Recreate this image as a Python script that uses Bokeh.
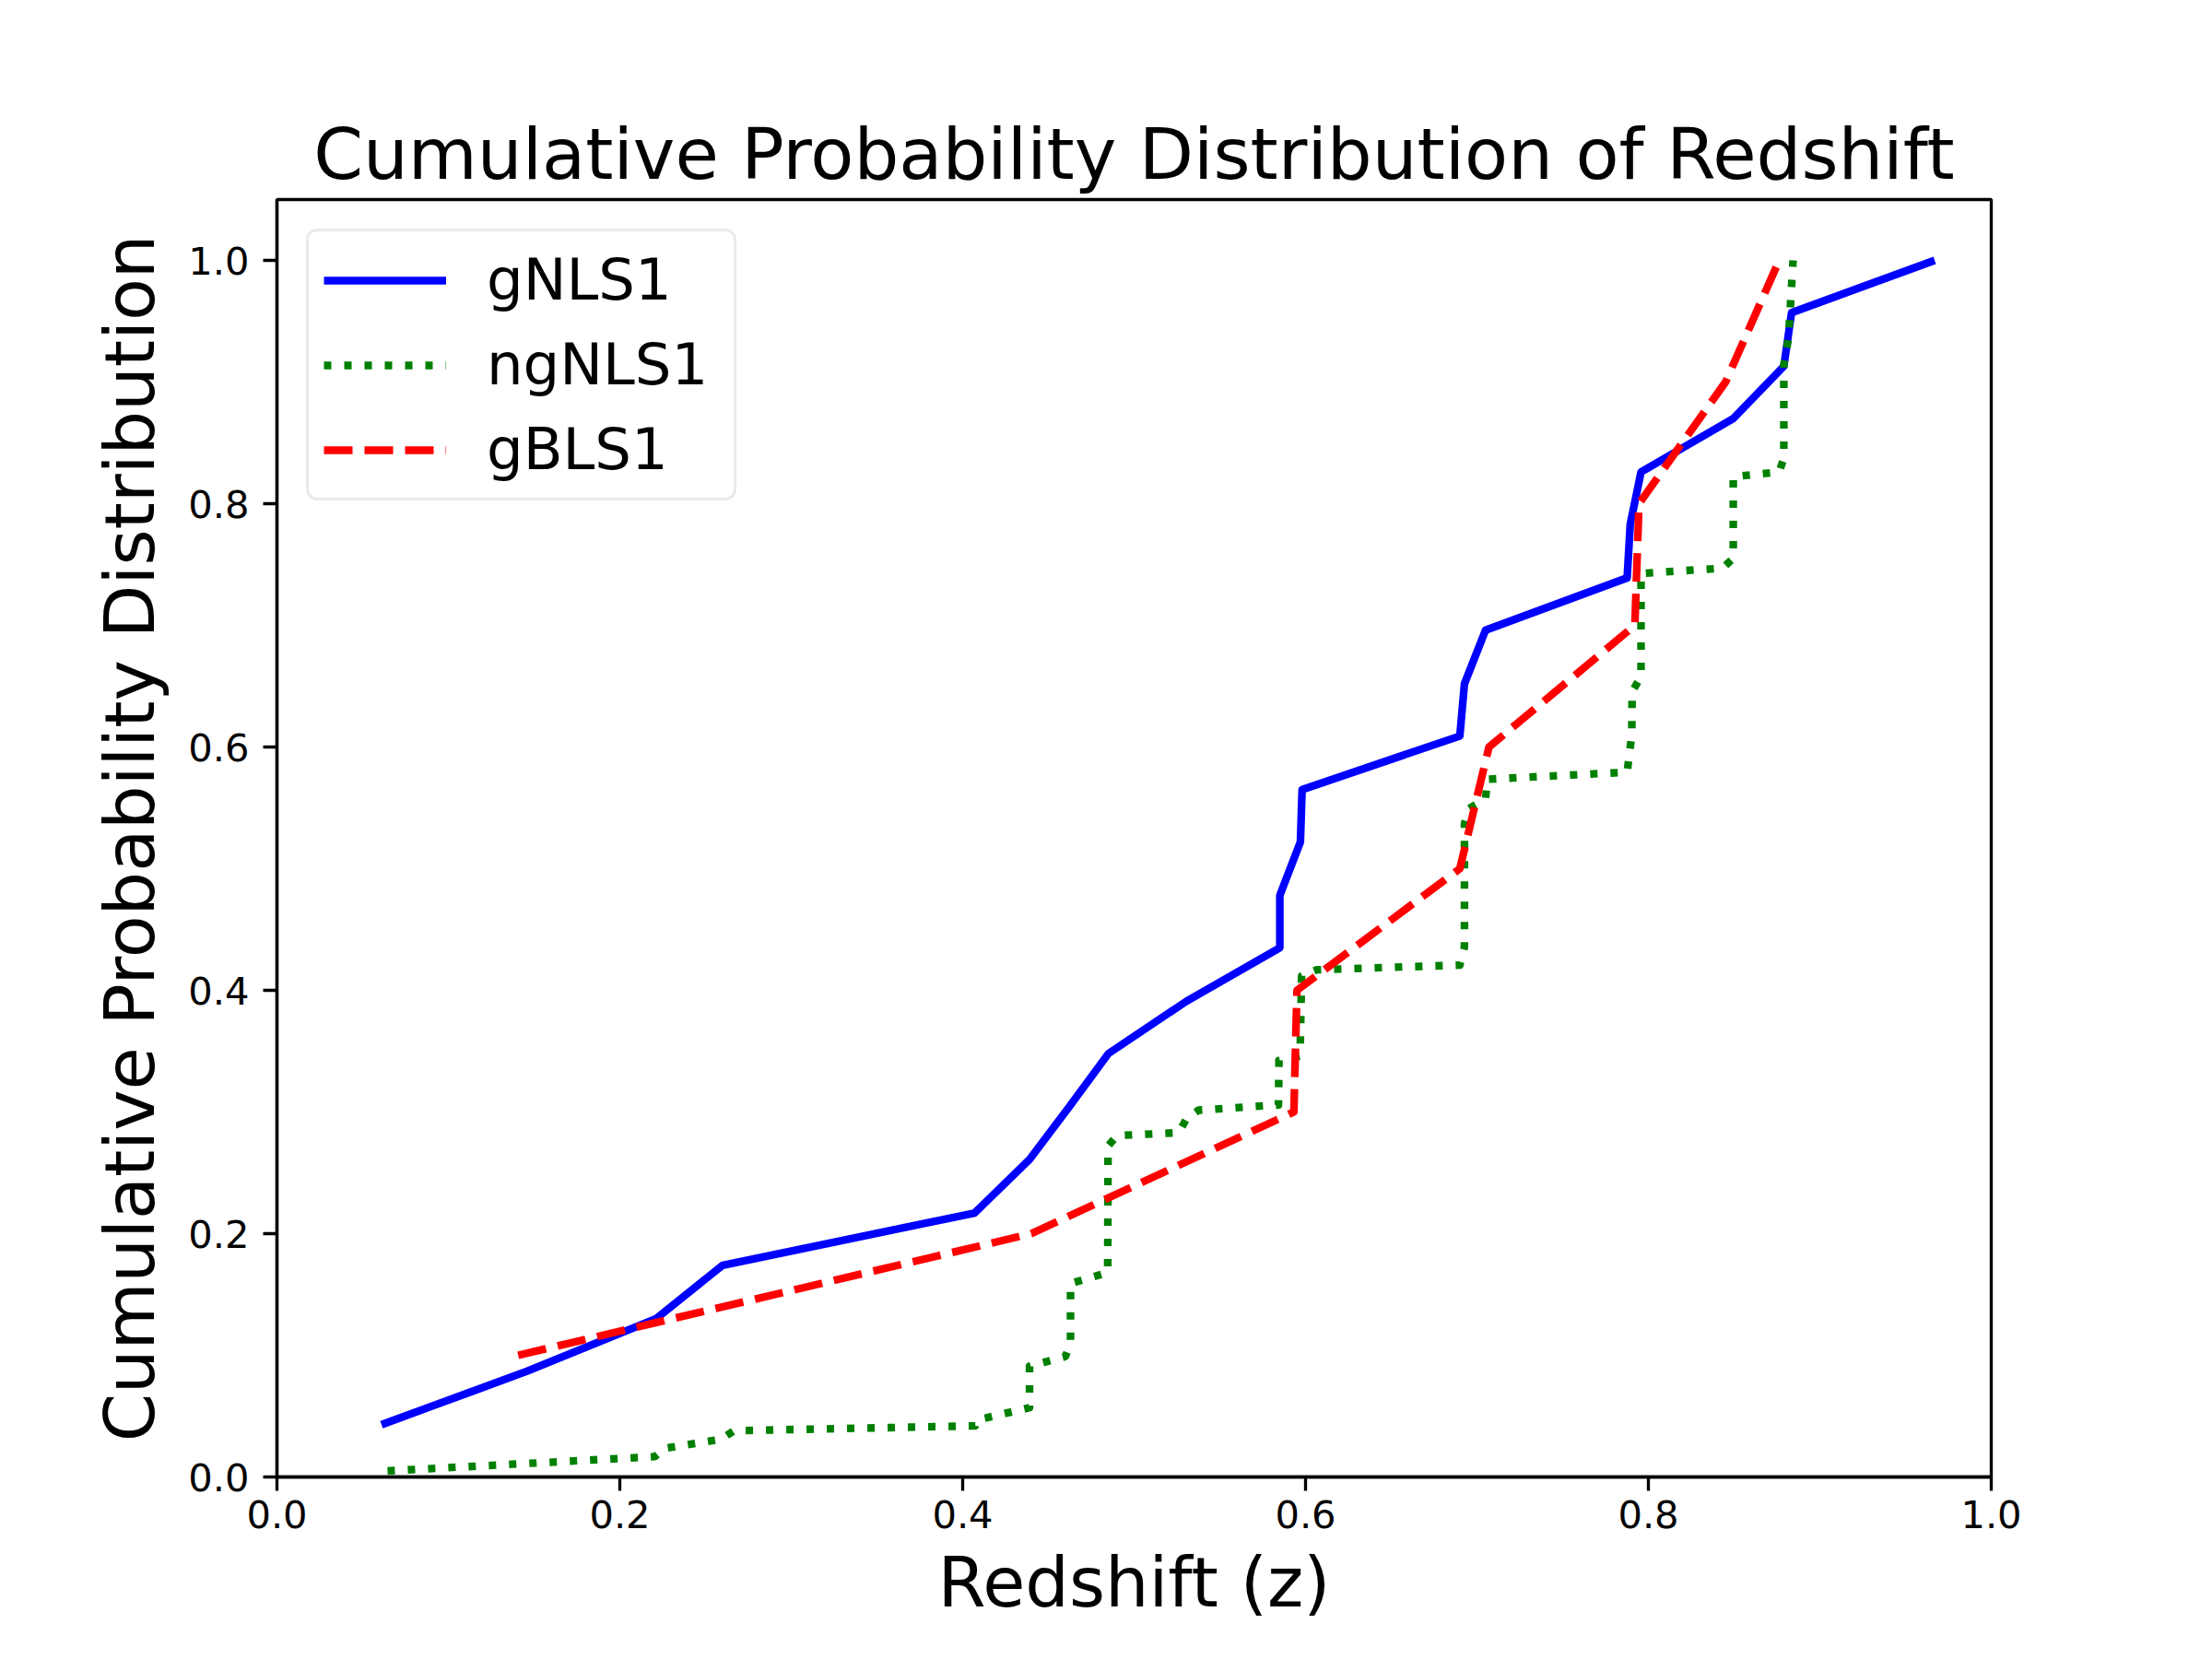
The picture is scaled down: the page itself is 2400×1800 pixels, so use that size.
from bokeh.plotting import figure
from bokeh.models import Range1d, FixedTicker, PrintfTickFormatter, Legend, LegendItem
from bokeh.embed import file_html
from bokeh.resources import INLINE

# ---------------- data ----------------
gnls1_z = [0.061, 0.146, 0.221, 0.260, 0.407, 0.439, 0.462, 0.485, 0.5305, 0.585,
           0.585, 0.597, 0.598, 0.690, 0.6927, 0.705, 0.7876, 0.7894, 0.7957, 0.8495,
           0.879, 0.8835, 0.967]
gnls1_cdf = [0.043, 0.087, 0.130, 0.174, 0.217, 0.261, 0.304, 0.348, 0.391, 0.435,
             0.478, 0.522, 0.565, 0.609, 0.652, 0.696, 0.739, 0.783, 0.826, 0.870,
             0.913, 0.957, 1.000]

ngnls1_z = [0.0645, 0.2204, 0.2258, 0.259, 0.2665, 0.4074, 0.409, 0.439, 0.439, 0.4599,
            0.4629, 0.4629, 0.4846, 0.4848, 0.490, 0.526, 0.5305, 0.5376, 0.5842, 0.5845,
            0.5968, 0.5977, 0.6066, 0.690, 0.6927, 0.6927, 0.6954, 0.705, 0.706, 0.7876,
            0.7903, 0.7905, 0.7957, 0.7957, 0.8432, 0.8495, 0.8495, 0.8763, 0.879, 0.879,
            0.8817, 0.8844]
ngnls1_cdf = [0.005, 0.0167, 0.0235, 0.031, 0.038, 0.042, 0.047, 0.057, 0.091, 0.099,
              0.110, 0.159, 0.168, 0.272, 0.2806, 0.283, 0.2944, 0.3015, 0.3058, 0.3424,
              0.346, 0.4119, 0.4169, 0.4207, 0.4358, 0.537, 0.5495, 0.557, 0.5735, 0.5793,
              0.610, 0.6455, 0.658, 0.7427, 0.747, 0.755, 0.8222, 0.826, 0.8374, 0.9144,
              0.9358, 1.000]

gbls1_z = [0.1407, 0.440, 0.5932, 0.595, 0.690, 0.707, 0.7921, 0.7945, 0.845, 0.8763]
gbls1_cdf = [0.1, 0.2, 0.3, 0.4, 0.5, 0.6, 0.7, 0.8, 0.9, 1.0]

tick_values = [0.0, 0.2, 0.4, 0.6, 0.8, 1.0]

FONT = "DejaVu Sans"

p = figure(width=2384, height=1784, output_backend="svg", toolbar_location=None,
           x_range=Range1d(0, 1), y_range=Range1d(0, 1.05),
           min_border_left=300, min_border_right=224,
           min_border_top=216, min_border_bottom=182)

p.background_fill_color = "white"
p.border_fill_color = "white"
p.grid.visible = False
p.outline_line_color = "black"
p.outline_line_width = 3.33
p.outline_line_alpha = 1.0

p.title.text = "Cumulative Probability Distribution of Redshift"
p.title.text_font = FONT
p.title.text_font_size = "77px"
p.title.text_font_style = "normal"
p.title.text_color = "black"
p.title.align = "center"
p.title.standoff = 10

p.xaxis.axis_label = "Redshift (z)"
p.yaxis.axis_label = "Cumulative Probability Distribution"
for ax in (p.xaxis, p.yaxis):
    ax.ticker = FixedTicker(ticks=tick_values)
    ax.formatter = PrintfTickFormatter(format="%.1f")
    ax.axis_label_text_font = FONT
    ax.axis_label_text_font_size = "75px"
    ax.axis_label_text_font_style = "normal"
    ax.axis_label_text_color = "black"
    ax.major_label_text_font = FONT
    ax.major_label_text_font_size = "41.67px"
    ax.major_label_text_color = "black"
    ax.axis_line_color = "black"
    ax.axis_line_width = 3.33
    ax.major_tick_line_color = "black"
    ax.major_tick_line_width = 3.33
    ax.major_tick_out = 15
    ax.major_tick_in = 0
    ax.minor_tick_line_color = None

p.xaxis.major_label_standoff = 10
p.yaxis.major_label_standoff = 15
p.xaxis.axis_label_standoff = 12
p.yaxis.axis_label_standoff = 16

r1 = p.line(gnls1_z, gnls1_cdf, line_color="#0000ff", line_width=8.33, line_join="round")
r2 = p.line(ngnls1_z, ngnls1_cdf, line_color="#008000", line_width=8.33,
            line_dash="8 14", line_join="round")
r3 = p.line(gbls1_z, gbls1_cdf, line_color="#ff0000", line_width=8.33,
            line_dash="31 13", line_join="round")

legend = Legend(items=[LegendItem(label="gNLS1", renderers=[r1]),
                       LegendItem(label="ngNLS1", renderers=[r2]),
                       LegendItem(label="gBLS1", renderers=[r3])],
                location="top_left")
legend.margin = 32
legend.padding = 16
legend.spacing = 19
legend.glyph_width = 133
legend.glyph_height = 60
legend.label_height = 60
legend.label_width = 252
legend.label_standoff = 44
legend.label_text_font = FONT
legend.label_text_font_size = "62.5px"
legend.label_text_color = "black"
legend.border_line_color = "#d6d6d6"
legend.border_line_width = 3.33
legend.background_fill_color = "white"
legend.background_fill_alpha = 0.8
if "border_radius" in Legend.properties():
    legend.border_radius = 12
p.add_layout(legend)

open("out.html", "w").write(file_html(p, INLINE))
